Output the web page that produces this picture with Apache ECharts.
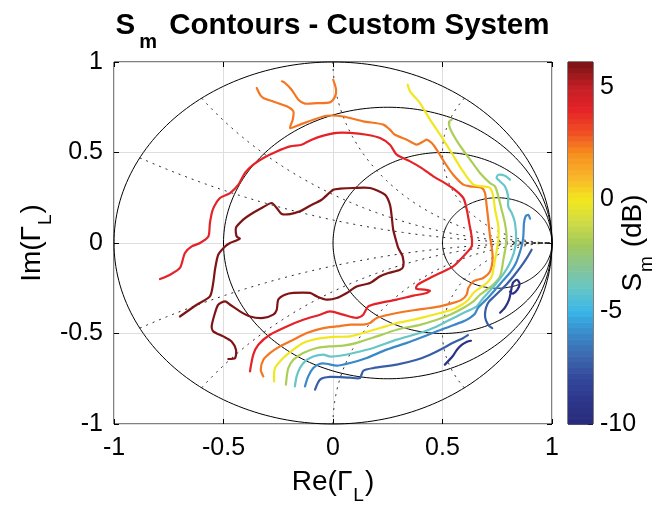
<!DOCTYPE html>
<html><head><meta charset="utf-8">
<script src="https://cdn.jsdelivr.net/npm/echarts/dist/echarts.min.js"></script>
<style>html,body{margin:0;padding:0;background:#fff}#c{width:665px;height:507px}</style>
</head><body><div id="c"></div>
<script>
const FONT = '"Liberation Sans", Arial, Helvetica, sans-serif';

// axes / ticks
const axisTicks = [-1, -0.5, 0, 0.5, 1];
const colorbarTicks = [-10, -5, 0, 5];
const colorbarRange = [-10, 6.1];

// Smith chart grid values
const resistances = [0, 1/3, 1, 3];
const reactances = [0.25, 0.5, 1, 2, -0.25, -0.5, -1, -2];

// colormap (values -10 .. 6, step 1)
const cmap = ['#282b7a','#2c3589','#33469a','#3c68ae','#3a88c8','#38b5e8','#66c6c8','#86c595',
  '#a2ca5c','#cfdc45','#f2e71e','#f9b52a','#f6911e','#f04e24','#e42227','#c21f26','#7e1416'];

const levels = [6, 4, 2.4, 0, -1.8, -4, -6, -7.3, -9.3];

// contour paths in Gamma_L coordinates [Re, Im]
const pathDarkRed = [[-0.699,-0.406],[-0.622,-0.341],[-0.562,-0.295],[-0.547,-0.221],[-0.539,-0.148],[-0.524,-0.065],[-0.493,-0.019],[-0.470,0.0],[-0.443,0.013],[-0.425,0.024],[-0.440,0.036],[-0.443,0.085],[-0.410,0.129],[-0.379,0.156],[-0.326,0.193],[-0.280,0.221],[-0.257,0.193],[-0.234,0.160],[-0.196,0.160],[-0.151,0.175],[-0.105,0.206],[-0.052,0.239],[0.001,0.294],[0.032,0.300],[0.093,0.304],[0.169,0.304],[0.237,0.267],[0.260,0.212],[0.268,0.147],[0.275,0.073],[0.291,0.0],[0.298,-0.028],[0.318,-0.074],[0.321,-0.129],[0.306,-0.148],[0.253,-0.166],[0.215,-0.184],[0.169,-0.221],[0.108,-0.240],[0.063,-0.276],[0.017,-0.304],[-0.029,-0.313],[-0.074,-0.295],[-0.105,-0.276],[-0.181,-0.276],[-0.219,-0.286],[-0.250,-0.313],[-0.257,-0.369],[-0.273,-0.396],[-0.318,-0.414],[-0.379,-0.406],[-0.425,-0.378],[-0.470,-0.341],[-0.493,-0.323],[-0.524,-0.341],[-0.539,-0.387],[-0.554,-0.461],[-0.547,-0.488],[-0.501,-0.516],[-0.463,-0.544],[-0.443,-0.590],[-0.447,-0.635],[-0.478,-0.641]];
const pathRed = [[-0.790,-0.199],[-0.744,-0.175],[-0.699,-0.138],[-0.676,-0.055],[-0.645,-0.019],[-0.607,0.0],[-0.569,0.036],[-0.562,0.110],[-0.549,0.184],[-0.516,0.249],[-0.470,0.276],[-0.432,0.322],[-0.402,0.387],[-0.364,0.433],[-0.318,0.470],[-0.257,0.506],[-0.196,0.534],[-0.143,0.543],[-0.097,0.571],[-0.044,0.593],[0.017,0.608],[0.078,0.608],[0.154,0.598],[0.215,0.580],[0.260,0.543],[0.291,0.488],[0.352,0.451],[0.405,0.414],[0.458,0.368],[0.511,0.331],[0.557,0.294],[0.595,0.249],[0.611,0.184],[0.622,0.110],[0.633,0.036],[0.633,-0.019],[0.595,-0.074],[0.549,-0.129],[0.489,-0.166],[0.443,-0.193],[0.387,-0.230],[0.379,-0.252],[0.420,-0.258],[0.443,-0.264],[0.428,-0.276],[0.367,-0.291],[0.291,-0.313],[0.215,-0.331],[0.161,-0.350],[0.138,-0.396],[0.108,-0.414],[0.047,-0.396],[-0.014,-0.378],[-0.059,-0.396],[-0.136,-0.424],[-0.211,-0.461],[-0.288,-0.507],[-0.341,-0.562],[-0.364,-0.617],[-0.379,-0.709]];
const pathOrangeTop = [[-0.233,0.893],[-0.219,0.884],[-0.189,0.847],[-0.158,0.792],[-0.128,0.770],[-0.074,0.773],[-0.014,0.777],[0.009,0.808],[0.014,0.847],[0.001,0.902]];
const pathOrange = [[-0.348,0.856],[-0.333,0.819],[-0.318,0.801],[-0.273,0.782],[-0.211,0.755],[-0.181,0.727],[-0.184,0.681],[-0.196,0.635],[-0.151,0.654],[-0.090,0.681],[-0.029,0.703],[0.047,0.699],[0.138,0.672],[0.230,0.654],[0.260,0.626],[0.283,0.598],[0.337,0.571],[0.382,0.544],[0.412,0.561],[0.428,0.571],[0.451,0.552],[0.474,0.515],[0.511,0.442],[0.549,0.377],[0.595,0.322],[0.626,0.313],[0.679,0.304],[0.694,0.276],[0.702,0.202],[0.709,0.129],[0.717,0.036],[0.729,-0.074],[0.717,-0.157],[0.686,-0.193],[0.641,-0.212],[0.618,-0.249],[0.610,-0.286],[0.588,-0.313],[0.549,-0.331],[0.489,-0.350],[0.443,-0.359],[0.382,-0.369],[0.291,-0.387],[0.200,-0.414],[0.169,-0.442],[0.138,-0.451],[0.078,-0.451],[0.017,-0.461],[-0.044,-0.470],[-0.120,-0.497],[-0.181,-0.534],[-0.242,-0.571],[-0.288,-0.608],[-0.318,-0.645],[-0.330,-0.700],[-0.318,-0.737]];
const pathYellow = [[0.341,0.875],[0.352,0.838],[0.397,0.773],[0.443,0.682],[0.489,0.599],[0.542,0.497],[0.588,0.406],[0.641,0.322],[0.686,0.313],[0.717,0.304],[0.732,0.257],[0.740,0.184],[0.755,0.092],[0.755,0.018],[0.740,-0.092],[0.725,-0.185],[0.702,-0.221],[0.671,-0.249],[0.641,-0.276],[0.618,-0.313],[0.588,-0.341],[0.542,-0.369],[0.489,-0.387],[0.428,-0.406],[0.367,-0.424],[0.291,-0.442],[0.215,-0.470],[0.138,-0.497],[0.078,-0.516],[0.001,-0.519],[-0.074,-0.530],[-0.136,-0.552],[-0.181,-0.589],[-0.227,-0.635],[-0.265,-0.691],[-0.269,-0.765]];
const pathGreen = [[0.542,0.681],[0.531,0.672],[0.534,0.635],[0.572,0.552],[0.626,0.461],[0.671,0.387],[0.717,0.331],[0.740,0.313],[0.755,0.257],[0.770,0.184],[0.785,0.110],[0.793,0.036],[0.790,-0.010],[0.778,-0.092],[0.763,-0.185],[0.732,-0.230],[0.702,-0.258],[0.671,-0.286],[0.641,-0.323],[0.595,-0.359],[0.534,-0.396],[0.474,-0.424],[0.397,-0.452],[0.291,-0.479],[0.200,-0.516],[0.108,-0.552],[0.047,-0.567],[-0.014,-0.571],[-0.074,-0.580],[-0.136,-0.608],[-0.181,-0.645],[-0.204,-0.691],[-0.211,-0.737],[-0.215,-0.783]];
const pathTeal = [[0.808,0.350],[0.785,0.372],[0.755,0.377],[0.747,0.359],[0.763,0.340],[0.785,0.313],[0.800,0.257],[0.800,0.202],[0.816,0.166],[0.831,0.110],[0.836,0.018],[0.826,-0.054],[0.804,-0.120],[0.776,-0.175],[0.744,-0.225],[0.712,-0.269],[0.680,-0.313],[0.656,-0.350],[0.595,-0.387],[0.534,-0.424],[0.474,-0.461],[0.397,-0.497],[0.291,-0.534],[0.184,-0.580],[0.093,-0.608],[0.032,-0.623],[-0.014,-0.627],[-0.044,-0.617],[-0.090,-0.627],[-0.128,-0.654],[-0.151,-0.691],[-0.166,-0.737],[-0.174,-0.792]];
const pathLightBlue = [[0.900,0.134],[0.892,0.156],[0.879,0.147],[0.872,0.110],[0.869,0.036],[0.863,-0.009],[0.854,-0.048],[0.836,-0.109],[0.808,-0.164],[0.776,-0.208],[0.744,-0.253],[0.712,-0.297],[0.685,-0.330],[0.662,-0.358],[0.648,-0.391],[0.616,-0.421],[0.595,-0.433],[0.534,-0.461],[0.474,-0.488],[0.397,-0.525],[0.337,-0.552],[0.245,-0.589],[0.154,-0.635],[0.078,-0.663],[0.017,-0.678],[-0.029,-0.667],[-0.059,-0.667],[-0.090,-0.691],[-0.113,-0.737],[-0.128,-0.792]];
const pathDarkBlueLow = [[-0.082,-0.810],[-0.059,-0.755],[-0.014,-0.740],[0.078,-0.744],[0.123,-0.746],[0.138,-0.706],[0.184,-0.691],[0.291,-0.672],[0.382,-0.645],[0.443,-0.617],[0.504,-0.580],[0.548,-0.551],[0.589,-0.529],[0.616,-0.509]];
const pathDarkBlueRight = [[0.907,-0.037],[0.886,-0.081],[0.858,-0.131],[0.826,-0.181],[0.795,-0.225],[0.763,-0.264],[0.735,-0.297],[0.712,-0.324],[0.699,-0.357],[0.694,-0.396],[0.699,-0.429],[0.712,-0.457],[0.727,-0.470]];
const pathNavyLow = [[0.511,-0.672],[0.548,-0.623],[0.566,-0.590],[0.589,-0.562],[0.612,-0.545],[0.630,-0.540]];
const pathNavyRight = [[0.763,-0.385],[0.785,-0.357],[0.804,-0.313],[0.813,-0.264],[0.822,-0.219],[0.840,-0.203],[0.852,-0.225],[0.842,-0.258],[0.822,-0.280],[0.808,-0.269]];

const contours = [
  {level: levels[0], path: pathDarkRed},
  {level: levels[1], path: pathRed},
  {level: levels[2], path: pathOrangeTop},
  {level: levels[2], path: pathOrange},
  {level: levels[3], path: pathYellow},
  {level: levels[4], path: pathGreen},
  {level: levels[5], path: pathTeal},
  {level: levels[6], path: pathLightBlue},
  {level: levels[7], path: pathDarkBlueLow},
  {level: levels[7], path: pathDarkBlueRight},
  {level: levels[8], path: pathNavyLow},
  {level: levels[8], path: pathNavyRight}
];

function circlePts(api, cx, cy, R, t0, t1, n, flip) {
  const pts = [];
  for (let i = 0; i <= n; i++) {
    const t = t0 + (t1 - t0) * i / n;
    const y = cy + R * Math.sin(t);
    pts.push(api.coord([cx + R * Math.cos(t), flip ? -y : y]));
  }
  return pts;
}

const cbSteps = 64;
const cbData = [];
for (let i = 0; i < cbSteps; i++) {
  const lo = colorbarRange[0] + i * (colorbarRange[1] - colorbarRange[0]) / cbSteps;
  const hi = colorbarRange[0] + (i + 1) * (colorbarRange[1] - colorbarRange[0]) / cbSteps;
  cbData.push([lo, hi, (lo + hi) / 2]);
}

const tickStyle = {fontFamily: FONT, fontSize: 25, color: '#000'};
const nameRich = {
  a: {fontFamily: FONT, fontSize: 28, color: '#000', verticalAlign: 'top', lineHeight: 30},
  s: {fontFamily: FONT, fontSize: 19, color: '#000', verticalAlign: 'top', lineHeight: 30, padding: [18, 1, 0, 1]}
};

const chart = echarts.init(document.getElementById('c'), null, {renderer: 'canvas'});
chart.setOption({
  animation: false,
  backgroundColor: '#fff',
  title: {
    text: '{t|S}{s|m}{t| Contours - Custom System}',
    left: 'center', top: 6,
    textStyle: {rich: {
      t: {fontFamily: FONT, fontSize: 29.5, fontWeight: 'bold', color: '#000', verticalAlign: 'top', lineHeight: 32},
      s: {fontFamily: FONT, fontSize: 20, fontWeight: 'bold', color: '#000', verticalAlign: 'top', lineHeight: 32, padding: [21, 4, 0, 4]}
    }}
  },
  grid: [
    {left: 114, top: 62, width: 438, height: 362, show: true, borderColor: '#000', borderWidth: 1, backgroundColor: 'transparent', containLabel: false, outerBoundsMode: 'none'},
    {left: 568, top: 62, width: 25, height: 362, show: true, borderColor: '#000', borderWidth: 1, backgroundColor: 'transparent', containLabel: false, outerBoundsMode: 'none'}
  ],
  xAxis: [
    {gridIndex: 0, type: 'value', min: axisTicks[0], max: axisTicks[axisTicks.length-1], interval: 0.5, position: 'bottom',
     axisLine: {show: false, onZero: false}, axisTick: {show: true, inside: true, length: 5, lineStyle: {color: '#000'}},
     axisLabel: Object.assign({margin: 12}, tickStyle), splitLine: {show: true, lineStyle: {color: '#dedede', width: 1}},
     name: '{a|Re(Γ}{s|L}{a|)}', nameLocation: 'middle', nameGap: 44, nameMoveOverlap: false, nameTextStyle: {rich: nameRich}},
    {gridIndex: 0, type: 'value', min: -1, max: 1, interval: 0.5, position: 'top',
     axisLine: {show: false, onZero: false}, axisTick: {show: true, inside: true, length: 5, lineStyle: {color: '#000'}},
     axisLabel: {show: false}, splitLine: {show: false}},
    {gridIndex: 1, type: 'value', min: 0, max: 1, show: false}
  ],
  yAxis: [
    {gridIndex: 0, type: 'value', min: -1, max: 1, interval: 0.5, position: 'left',
     axisLine: {show: false, onZero: false}, axisTick: {show: true, inside: true, length: 5, lineStyle: {color: '#000'}},
     axisLabel: Object.assign({margin: 11}, tickStyle), splitLine: {show: true, lineStyle: {color: '#dedede', width: 1}},
     name: '{a|Im(Γ}{s|L}{a|)}', nameLocation: 'middle', nameRotate: 90, nameGap: 66, nameMoveOverlap: false, nameTextStyle: {rich: nameRich}},
    {gridIndex: 0, type: 'value', min: -1, max: 1, interval: 0.5, position: 'right',
     axisLine: {show: false, onZero: false}, axisTick: {show: true, inside: true, length: 5, lineStyle: {color: '#000'}},
     axisLabel: {show: false}, splitLine: {show: false}},
    {gridIndex: 1, type: 'value', min: colorbarRange[0], max: colorbarRange[1], interval: 5, position: 'right',
     axisLine: {show: false, onZero: false}, axisTick: {show: true, inside: true, length: 5, lineStyle: {color: '#000'}},
     axisLabel: Object.assign({margin: 7, showMaxLabel: false}, tickStyle), splitLine: {show: false},
     name: '{a|S}{s|m}{a| (dB)}', nameLocation: 'middle', nameRotate: 90, nameGap: 26, nameMoveOverlap: false, nameTextStyle: {rich: nameRich}}
  ],
  visualMap: {
    type: 'continuous', show: false, min: -10, max: 6, dimension: 2, seriesIndex: [2, 3],
    inRange: {color: cmap}
  },
  series: [
    {type: 'custom', xAxisIndex: 0, yAxisIndex: 0, silent: true, z: 2,
     data: resistances.map(r => [r, 0]),
     renderItem: (params, api) => {
       const r = api.value(0);
       return {type: 'polyline', shape: {points: circlePts(api, r/(1+r), 0, 1/(1+r), 0, 2*Math.PI, 240, false)},
               style: {stroke: '#000', lineWidth: 1, fill: null}};
     }},
    {type: 'custom', xAxisIndex: 0, yAxisIndex: 0, silent: true, z: 2,
     data: reactances.map(x => [x, 0]),
     renderItem: (params, api) => {
       const x = api.value(0), ax = Math.abs(x);
       const cy = 1/ax, R = 1/ax;
       const px = (ax*ax - 1)/(ax*ax + 1), py = 2*ax/(ax*ax + 1);
       const t0 = Math.atan2(py - cy, px - 1);
       let t1 = -Math.PI/2; if (t1 < t0) t1 += 2*Math.PI;
       return {type: 'polyline', shape: {points: circlePts(api, 1, cy, R, t0, t1, 200, x < 0)},
               style: {stroke: '#222', lineWidth: 1, fill: null, lineDash: [2, 5]}};
     }},
    {type: 'custom', xAxisIndex: 0, yAxisIndex: 0, silent: true, z: 5,
     data: contours.map((c, i) => [i, 0, c.level]),
     renderItem: (params, api) => {
       const c = contours[api.value(0)];
       return {type: 'polyline', shape: {points: c.path.map(p => api.coord(p)), smooth: 0.25},
               style: {stroke: api.visual('color'), lineWidth: 2.2, fill: null, lineJoin: 'round', lineCap: 'round'}};
     }},
    {type: 'custom', xAxisIndex: 2, yAxisIndex: 2, silent: true, z: 1,
     data: cbData,
     renderItem: (params, api) => {
       const p1 = api.coord([0, api.value(1)]);
       const p2 = api.coord([1, api.value(0)]);
       return {type: 'rect', shape: {x: p1[0], y: p1[1], width: p2[0]-p1[0], height: p2[1]-p1[1] + 0.6},
               style: {fill: api.visual('color')}};
     }}
  ]
});
</script></body></html>
